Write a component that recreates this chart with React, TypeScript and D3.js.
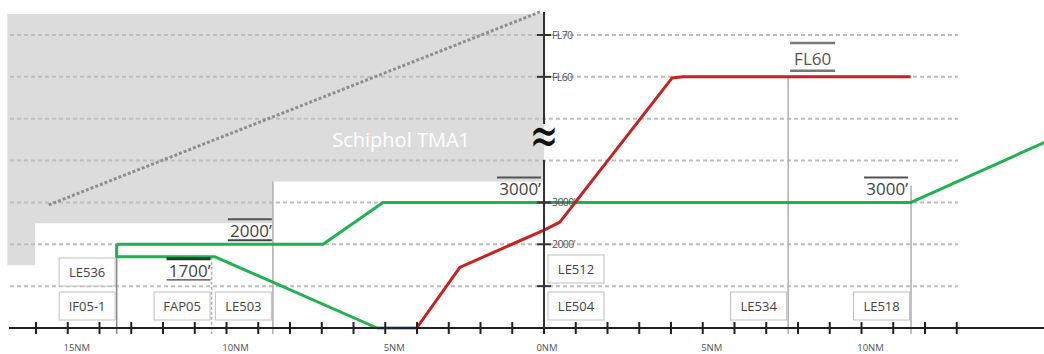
import React from "react";
import * as d3 from "d3";

// distance (NM, negative = before threshold) and altitude (ft)
const greenArrival: [number, number][] = [
  [-13.46, 2000], [-6.96, 2000], [-5.07, 3000], [11.56, 3000], [15.75, 4430],
];
const greenDescent: [number, number][] = [
  [-13.46, 2000], [-13.46, 1700], [-10.36, 1700], [-5.26, 0],
];
const blueGround: [number, number][] = [[-5.26, 0], [-4.01, 0]];
const redClimb: [number, number][] = [
  [-4.01, 0], [-2.65, 1450], [0, 2340], [0.5, 2530], [4.03, 5970], [4.38, 6000], [11.55, 6000],
];
const tmaArea: [number, number][] = [
  [-16.9, 7500], [0, 7500], [0, 3500], [-8.54, 3500], [-8.54, 2500],
  [-16.03, 2500], [-16.03, 1500], [-16.9, 1500],
];
const tmaDiagonal: [number, number][] = [[-15.6, 2940], [-0.13, 7550]];
const gridAlts = [1000, 2000, 3000, 4000, 5000, 6000, 7000];
const yTicks = [1000, 2000, 3000, 6000, 7000];
const yTickLabels = ["", "2000'", "3000'", "FL60", "FL70"];
const nmTicks = d3.range(-16, 14);
const nmLabels = [-15, -10, -5, 0, 5, 10];
const boxNames = ["IF05-1", "LE536", "FAP05", "LE503", "LE504", "LE512", "LE534", "LE518"];
const boxNm = [-13.46, -13.46, -10.47, -8.54, 0, 0, 7.69, 11.56];
const boxRow = [0, 1, 0, 0, 0, 1, 0, 0];
const vLineNm = [-13.46, -10.47, -8.54, 7.69, 11.56];
const vLineTopAlt = [2000, 1700, 3500, 6000, 3400];
const altLabelText = ["2000’", "1700’", "3000’", "3000’", "FL60"];
const altLabelNm = [-8.54, -10.47, 0, 11.56, 7.69];
const altLabelFt = [2000, 1700, 3000, 3000, 6000];

const W = 1044;
const H = 354;

export default function App() {
  const x = d3.scaleLinear().domain([-17.134, 15.748]).range([0, W]);
  const y = d3.scaleLinear().domain([0, 7000]).range([328, 35]);
  const line = d3.line<[number, number]>().x((d) => x(d[0])).y((d) => y(d[1]));
  const x0 = x(0);
  const font = "'Open Sans', 'Liberation Sans', sans-serif";
  const boxW = 56;
  const boxH = 28;

  return (
    <svg width={W} height={H} style={{ position: "absolute", left: 0, top: 0, background: "#fff" }}>
      {/* TMA area */}
      <path d={line(tmaArea) + "Z"} fill="#dcdcdc" />
      <text x={x(-4.5)} y={y(4320)} fill="#fff" fontFamily={font} fontSize={20} textAnchor="middle">
        Schiphol TMA1
      </text>
      {/* grid */}
      {gridAlts.map((a) => (
        <line key={a} x1={10} x2={958} y1={y(a)} y2={y(a)} stroke="#bdbdbd" strokeWidth={2} strokeDasharray="4 3" />
      ))}
      <path d={line(tmaDiagonal)!} stroke="#8f8f8f" strokeWidth={3} strokeDasharray="3 2" fill="none" />
      {/* waypoint vertical lines */}
      {vLineNm.map((n, i) => (
        <line key={i} x1={x(n)} x2={x(n)} y1={y(vLineTopAlt[i])} y2={334}
          stroke={i === 0 ? "#8a8a8a" : "#b0b0b0"} strokeWidth={1.5}
          strokeDasharray={i === 1 ? "3 2" : undefined} />
      ))}
      {/* boxes */}
      {boxNames.map((nme, i) => {
        const right = boxNm[i] === 0 ? x0 + 4 + boxW : x(boxNm[i]) - 1.5;
        const top = boxRow[i] === 0 ? 292 : (boxNm[i] === 0 ? 255 : 258);
        return (
          <g key={nme}>
            <rect x={right - boxW} y={top} width={boxW} height={boxH} fill="#fff" stroke="#c0c0c0" strokeWidth={1} />
            <text x={right - boxW / 2} y={top + boxH / 2 + 5} textAnchor="middle" fontFamily={font} fontSize={13} fill="#444">
              {nme}
            </text>
          </g>
        );
      })}
      {/* paths */}
      <path d={line(greenArrival)!} stroke="#1db34f" strokeWidth={3} fill="none" strokeLinejoin="round" />
      <path d={line(greenDescent)!} stroke="#1db34f" strokeWidth={3} fill="none" strokeLinejoin="round" />
      <path d={line(blueGround)!} stroke="#5b8fd8" strokeWidth={3} fill="none" />
      <path d={line(redClimb)!} stroke="#cc1f1f" strokeWidth={3} fill="none" strokeLinejoin="round" />
      {/* altitude constraint labels */}
      {altLabelText.map((t, i) => {
        const isFL = t.startsWith("FL");
        const px = x(altLabelNm[i]);
        const py = y(altLabelFt[i]);
        if (isFL) {
          return (
            <g key={i}>
              <line x1={px + 2} x2={px + 47} y1={43} y2={43} stroke="#777" strokeWidth={2.5} />
              <text x={px + 24.5} y={65} textAnchor="middle" fontFamily={font} fontSize={17} fill="#555">{t}</text>
              <line x1={px + 2} x2={px + 47} y1={py - 6} y2={py - 6} stroke="#777" strokeWidth={2.5} />
            </g>
          );
        }
        const is1700 = altLabelFt[i] === 1700;
        const right = altLabelFt[i] === 3000 ? px - 3 : px - 1;
        const base = is1700 ? py + 20 : py - 7;
        return (
          <g key={i}>
            <line x1={right - 44} x2={right} y1={is1700 ? py + 2 : base - 18} y2={is1700 ? py + 2 : base - 18}
              stroke={is1700 ? "#1f3d2a" : "#555"} strokeWidth={is1700 ? 3 : 2} />
            <text x={right} y={base} textAnchor="end" fontFamily={font} fontSize={17} fill="#444">{t}</text>
            {(is1700 || altLabelFt[i] === 2000) && (
              <line x1={right - 44} x2={right} y1={base + 3} y2={base + 3} stroke="#444" strokeWidth={is1700 ? 1.2 : 2} />
            )}
          </g>
        );
      })}
      {/* x axis */}
      <line x1={9} x2={W} y1={y(0)} y2={y(0)} stroke="#222" strokeWidth={2} />
      {nmTicks.map((t) => (
        <line key={t} x1={x(t)} x2={x(t)} y1={y(0) - 6} y2={y(0) + 6} stroke="#222" strokeWidth={2} />
      ))}
      {nmLabels.map((t) => (
        <text key={t} x={x(t) + (t === 0 ? 3 : 9)} y={351} textAnchor="middle" fontFamily={font} fontSize={9.5} fill="#555">
          {Math.abs(t) + "NM"}
        </text>
      ))}
      {/* y axis */}
      <line x1={x0} x2={x0} y1={12} y2={124} stroke="#333" strokeWidth={2} />
      <line x1={x0} x2={x0} y1={160} y2={y(0)} stroke="#333" strokeWidth={2} />
      <g transform={`translate(${x0},${144}) scale(1,1.6)`}>
        <text x={0} y={6} textAnchor="middle" fontFamily="'DejaVu Sans', sans-serif" fontSize={34} fill="#111">≈</text>
      </g>
      {yTicks.map((t, i) => (
        <g key={t}>
          <line x1={x0 - 7} x2={x0 + 7} y1={y(t)} y2={y(t)} stroke="#333" strokeWidth={2} />
          <text x={x0 + 8} y={y(t) + 4} fontFamily={font} fontSize={10.5} fill="#555" letterSpacing={-0.6}>{yTickLabels[i]}</text>
        </g>
      ))}
    </svg>
  );
}
